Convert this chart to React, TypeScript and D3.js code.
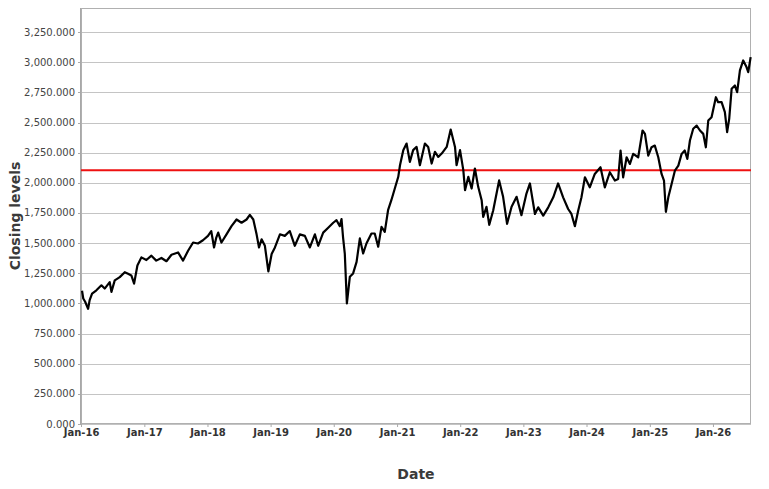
import React from 'react';
import * as d3 from 'd3';

const dates: string[] = [
  '2016-01-04','2016-01-11','2016-01-22','2016-02-08','2016-02-17','2016-03-02','2016-03-27','2016-04-25','2016-05-14','2016-06-12',
  '2016-06-22','2016-07-11','2016-08-09','2016-09-07','2016-09-26','2016-10-15','2016-10-31','2016-11-19','2016-12-12','2017-01-10',
  '2017-02-08','2017-03-08','2017-04-07','2017-05-06','2017-06-04','2017-07-12','2017-08-10','2017-09-08','2017-10-07','2017-11-04',
  '2017-12-03','2018-01-01','2018-01-20','2018-02-05','2018-02-18','2018-03-01','2018-03-20','2018-04-18','2018-05-17','2018-06-15',
  '2018-07-14','2018-08-12','2018-08-31','2018-09-20','2018-10-09','2018-10-23','2018-11-07','2018-11-26','2018-12-16','2019-01-04',
  '2019-01-23','2019-02-21','2019-03-21','2019-04-19','2019-05-18','2019-06-16','2019-07-15','2019-08-13','2019-09-11','2019-09-30',
  '2019-10-29','2019-11-27','2019-12-26','2020-01-14','2020-02-02','2020-02-12','2020-02-21','2020-03-02','2020-03-14','2020-03-31',
  '2020-04-19','2020-05-09','2020-05-28','2020-06-16','2020-07-05','2020-08-03','2020-08-22','2020-09-11','2020-09-30','2020-10-19',
  '2020-11-07','2020-11-26','2020-12-16','2021-01-05','2021-01-15','2021-02-03','2021-02-22','2021-03-13','2021-04-01','2021-04-21',
  '2021-05-10','2021-06-08','2021-06-27','2021-07-17','2021-08-05','2021-08-24','2021-09-13','2021-10-12','2021-11-04','2021-11-29',
  '2021-12-08','2021-12-28','2022-01-16','2022-01-26','2022-02-14','2022-03-05','2022-03-24','2022-04-12','2022-05-02','2022-05-11',
  '2022-05-30','2022-06-15','2022-07-08','2022-08-11','2022-09-03','2022-09-26','2022-10-22','2022-11-20','2022-12-18','2023-01-16',
  '2023-02-05','2023-03-06','2023-03-25','2023-04-23','2023-05-22','2023-06-20','2023-07-18','2023-08-16','2023-09-14','2023-10-03',
  '2023-10-23','2023-11-11','2023-11-30','2023-12-20','2024-01-17','2024-02-15','2024-03-19','2024-04-13','2024-05-12','2024-06-10',
  '2024-06-29','2024-07-13','2024-07-28','2024-08-17','2024-09-05','2024-09-24','2024-10-23','2024-11-17','2024-12-01','2024-12-20',
  '2025-01-08','2025-01-27','2025-02-16','2025-03-07','2025-03-21','2025-04-01','2025-04-15','2025-05-04','2025-05-23','2025-06-12',
  '2025-07-01','2025-07-19','2025-08-03','2025-08-18','2025-09-06','2025-09-26','2025-10-15','2025-11-03','2025-11-18','2025-12-02',
  '2025-12-21','2026-01-15','2026-01-28','2026-02-17','2026-03-08','2026-03-21','2026-04-02','2026-04-16','2026-05-05','2026-05-18',
  '2026-06-03','2026-06-22','2026-07-11','2026-07-21','2026-08-04',
];

const closes: number[] = [
  1105,1041,1014,955,1027,1082,1109,1150,1123,1177,
  1096,1191,1218,1259,1246,1232,1164,1314,1382,1360,
  1396,1355,1377,1350,1404,1423,1355,1437,1505,1497,
  1524,1560,1600,1464,1546,1587,1505,1573,1641,1696,
  1669,1696,1735,1696,1573,1464,1532,1478,1265,1410,
  1464,1573,1560,1600,1478,1573,1560,1464,1573,1478,
  1587,1628,1669,1690,1641,1700,1546,1410,1000,1221,
  1249,1345,1539,1414,1497,1580,1580,1470,1635,1594,
  1773,1856,1953,2050,2146,2271,2326,2174,2271,2298,
  2146,2326,2298,2160,2257,2215,2243,2298,2442,2298,
  2146,2271,2105,1939,2050,1953,2119,1967,1856,1718,
  1801,1652,1773,2020,1884,1660,1801,1884,1732,1911,
  1995,1742,1797,1728,1797,1880,1995,1880,1783,1742,
  1640,1769,1880,2046,1963,2074,2129,1963,2088,2019,
  2032,2268,2046,2212,2157,2240,2212,2434,2406,2226,
  2295,2309,2212,2074,2019,1760,1880,1991,2101,2143,
  2240,2268,2198,2351,2448,2475,2434,2406,2295,2517,
  2544,2710,2669,2669,2586,2420,2531,2780,2807,2752,
  2932,3015,2960,2918,3043,
];

const yTickValues: number[] = [0, 250, 500, 750, 1000, 1250, 1500, 1750, 2000, 2250, 2500, 2750, 3000, 3250];
const xTickYears: number[] = [2016, 2017, 2018, 2019, 2020, 2021, 2022, 2023, 2024, 2025, 2026];
const referenceLevel = 2105;
const yLabel = 'Closing levels';
const xLabel = 'Date';

export default function App() {
  const W = 769, H = 489;
  const left = 81, right = 751, top = 8, bottom = 424;
  const parse = d3.utcParse('%Y-%m-%d');
  const x = d3.scaleUtc()
    .domain([new Date(Date.UTC(2015, 11, 29)), new Date(Date.UTC(2026, 7, 6))])
    .range([left, right]);
  const y = d3.scaleLinear().domain([0, 3450]).range([bottom, top]);
  const fmtY = d3.format(',.3f');
  const fmtX = d3.utcFormat('%b-%y');
  const pts: [number, number][] = dates.map((d, i) => [x(parse(d) as Date), y(closes[i])]);
  const path = d3.line()(pts) || '';
  const font = '"DejaVu Sans", Verdana, sans-serif';
  const ry = y(referenceLevel);

  return (
    <svg width={W} height={H} style={{ position: 'absolute', left: 0, top: 0, background: '#fff' }}
      fontFamily={font}>
      <rect x={0} y={0} width={W} height={H} fill="#fff" />
      <rect x={left} y={top} width={right - left} height={bottom - top} fill="#fff" />
      {yTickValues.map((v) => (
        <g key={v}>
          <line x1={left} x2={right} y1={Math.round(y(v)) + 0.5} y2={Math.round(y(v)) + 0.5}
            stroke="#c4c4c4" strokeWidth={1} />
          <line x1={left - 3} x2={left} y1={Math.round(y(v)) + 0.5} y2={Math.round(y(v)) + 0.5}
            stroke="#aaa" strokeWidth={1} />
          <text x={75} y={y(v)} dy="0.35em" textAnchor="end" fontSize={10} fill="#444">{fmtY(v)}</text>
        </g>
      ))}
      <rect x={left + 0.5} y={top + 0.5} width={right - left - 1} height={bottom - top - 1}
        fill="none" stroke="#b0b0b0" strokeWidth={1} />
      <line x1={left - 0.5} x2={left - 0.5} y1={top} y2={bottom + 1} stroke="#a8a8a8" strokeWidth={1} />
      {xTickYears.map((yr) => {
        const d = new Date(Date.UTC(yr, 0, 1));
        const xx = x(d);
        return (
          <g key={yr}>
            <line x1={xx} x2={xx} y1={bottom} y2={bottom + 3} stroke="#aaa" strokeWidth={1} />
            <text x={xx} y={436} textAnchor="middle" fontSize={10} fontWeight="bold" fill="#333">{fmtX(d)}</text>
          </g>
        );
      })}
      <line x1={left} x2={right} y1={ry} y2={ry} stroke="#ee1111" strokeWidth={2} />
      <path d={path} fill="none" stroke="#000" strokeWidth={2.2} strokeLinejoin="round" />
      <text transform={`translate(20,${(top + bottom) / 2}) rotate(-90)`} textAnchor="middle"
        fontSize={14} fontWeight="bold" fill="#3a3a3a">{yLabel}</text>
      <text x={(left + right) / 2} y={479} textAnchor="middle" fontSize={14} fontWeight="bold" fill="#3a3a3a">{xLabel}</text>
    </svg>
  );
}
